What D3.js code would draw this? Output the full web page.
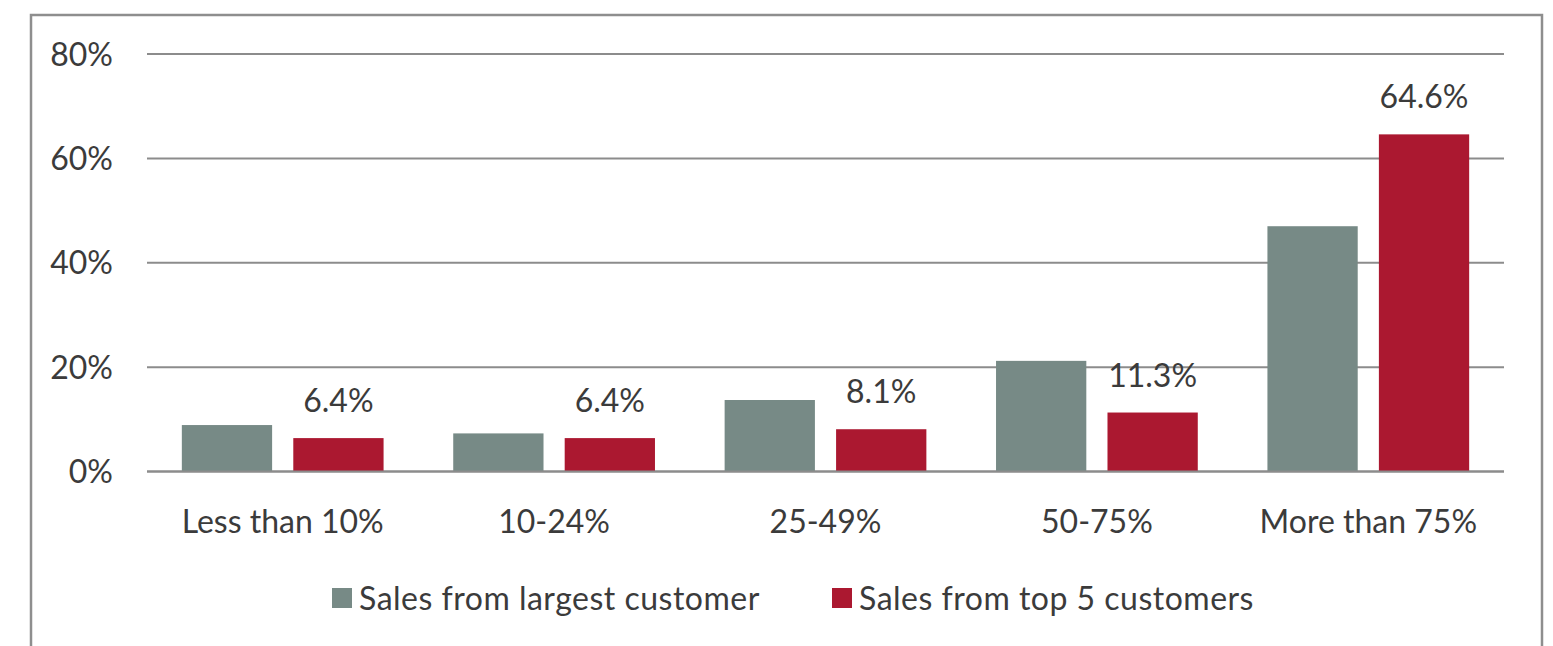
<!DOCTYPE html>
<html>
<head>
<meta charset="utf-8">
<script src="https://cdn.jsdelivr.net/npm/d3@7"></script>
<style>
  html, body { margin: 0; padding: 0; background: #fff; }
  svg { display: block; }
  text { font-family: Lato, "Open Sans", sans-serif; fill: #3b3b3b; }
</style>
</head>
<body>
<svg id="chart" width="1553" height="646"></svg>
<script>
// Share of sales by customer concentration band
const categories = ["Less than 10%", "10-24%", "25-49%", "50-75%", "More than 75%"];
const seriesNames = ["Sales from largest customer", "Sales from top 5 customers"];
const largestCustomer = [8.9, 7.3, 13.7, 21.2, 47.0];
const top5Customers = [6.4, 6.4, 8.1, 11.3, 64.6];
const yTicks = [0, 20, 40, 60, 80];
const colors = ["#778a86", "#ab1830"];

const svg = d3.select("#chart");
const W = 1553, H = 646;

// outer frame (open at the bottom, continues past the view)
svg.append("rect")
  .attr("x", 31).attr("y", 15)
  .attr("width", 1511).attr("height", H + 20)
  .attr("fill", "none").attr("stroke", "#8e8e8e").attr("stroke-width", 2.5);

const plot = { left: 147, right: 1504, top: 54, bottom: 471.5 };

const y = d3.scaleLinear().domain([0, 80]).range([plot.bottom, plot.top]);
const x0 = d3.scaleBand().domain(categories).range([plot.left, plot.right]).padding(0);
const x1 = d3.scaleBand().domain(seriesNames).range([0, x0.bandwidth()])
  .paddingInner(0.19).paddingOuter(0.3125);

// gridlines
svg.append("g")
  .selectAll("line")
  .data(yTicks)
  .join("line")
  .attr("x1", plot.left).attr("x2", plot.right)
  .attr("y1", d => y(d)).attr("y2", d => y(d))
  .attr("stroke", "#8c8c8c").attr("stroke-width", 2);

// y axis labels
const yAxis = d3.axisLeft(y).tickValues(yTicks).tickFormat(d => d + "%").tickSize(0).tickPadding(0);
const yg = svg.append("g").attr("transform", "translate(113,0)").call(yAxis);
yg.select(".domain").remove();
yg.selectAll("text")
  .attr("font-family", "Lato, 'Open Sans', sans-serif")
  .attr("font-size", 32).attr("fill", "#3b3b3b")
  .attr("dy", "0.35em");

const rows = categories.map((c, i) => ({
  cat: c,
  vals: [
    { s: seriesNames[0], v: largestCustomer[i], k: 0 },
    { s: seriesNames[1], v: top5Customers[i], k: 1 }
  ]
}));

const groups = svg.append("g").selectAll("g")
  .data(rows).join("g")
  .attr("transform", d => `translate(${x0(d.cat)},0)`);

groups.selectAll("rect")
  .data(d => d.vals).join("rect")
  .attr("x", d => x1(d.s))
  .attr("width", x1.bandwidth())
  .attr("y", d => y(d.v))
  .attr("height", d => y(0) - y(d.v))
  .attr("fill", d => colors[d.k]);

// value labels on the top-5 series
groups.selectAll("text.val")
  .data(d => d.vals.filter(v => v.k === 1)).join("text")
  .attr("class", "val")
  .attr("x", d => x1(d.s) + x1.bandwidth() / 2)
  .attr("y", d => y(d.v) - 26)
  .attr("text-anchor", "middle")
  .attr("font-size", 32)
  .text(d => d.v.toFixed(1) + "%");

// baseline drawn over bars
svg.append("line")
  .attr("x1", plot.left).attr("x2", plot.right)
  .attr("y1", y(0)).attr("y2", y(0))
  .attr("stroke", "#8c8c8c").attr("stroke-width", 2);

// category labels
const xAxis = d3.axisBottom(x0).tickSize(0).tickPadding(0);
const xg = svg.append("g").attr("transform", "translate(0,533)").call(xAxis);
xg.select(".domain").remove();
xg.selectAll("text")
  .attr("font-family", "Lato, 'Open Sans', sans-serif")
  .attr("font-size", 32).attr("fill", "#3b3b3b")
  .attr("dy", 0);

// legend
const legendX = [332, 832];
const legend = svg.append("g").selectAll("g")
  .data(seriesNames).join("g")
  .attr("transform", (d, i) => `translate(${legendX[i]},588)`);
legend.append("rect")
  .attr("width", 20).attr("height", 20)
  .attr("fill", (d, i) => colors[i]);
legend.append("text")
  .attr("x", 27).attr("y", 22)
  .attr("font-size", 32)
  .attr("letter-spacing", 0.5)
  .text(d => d);
</script>
</body>
</html>
